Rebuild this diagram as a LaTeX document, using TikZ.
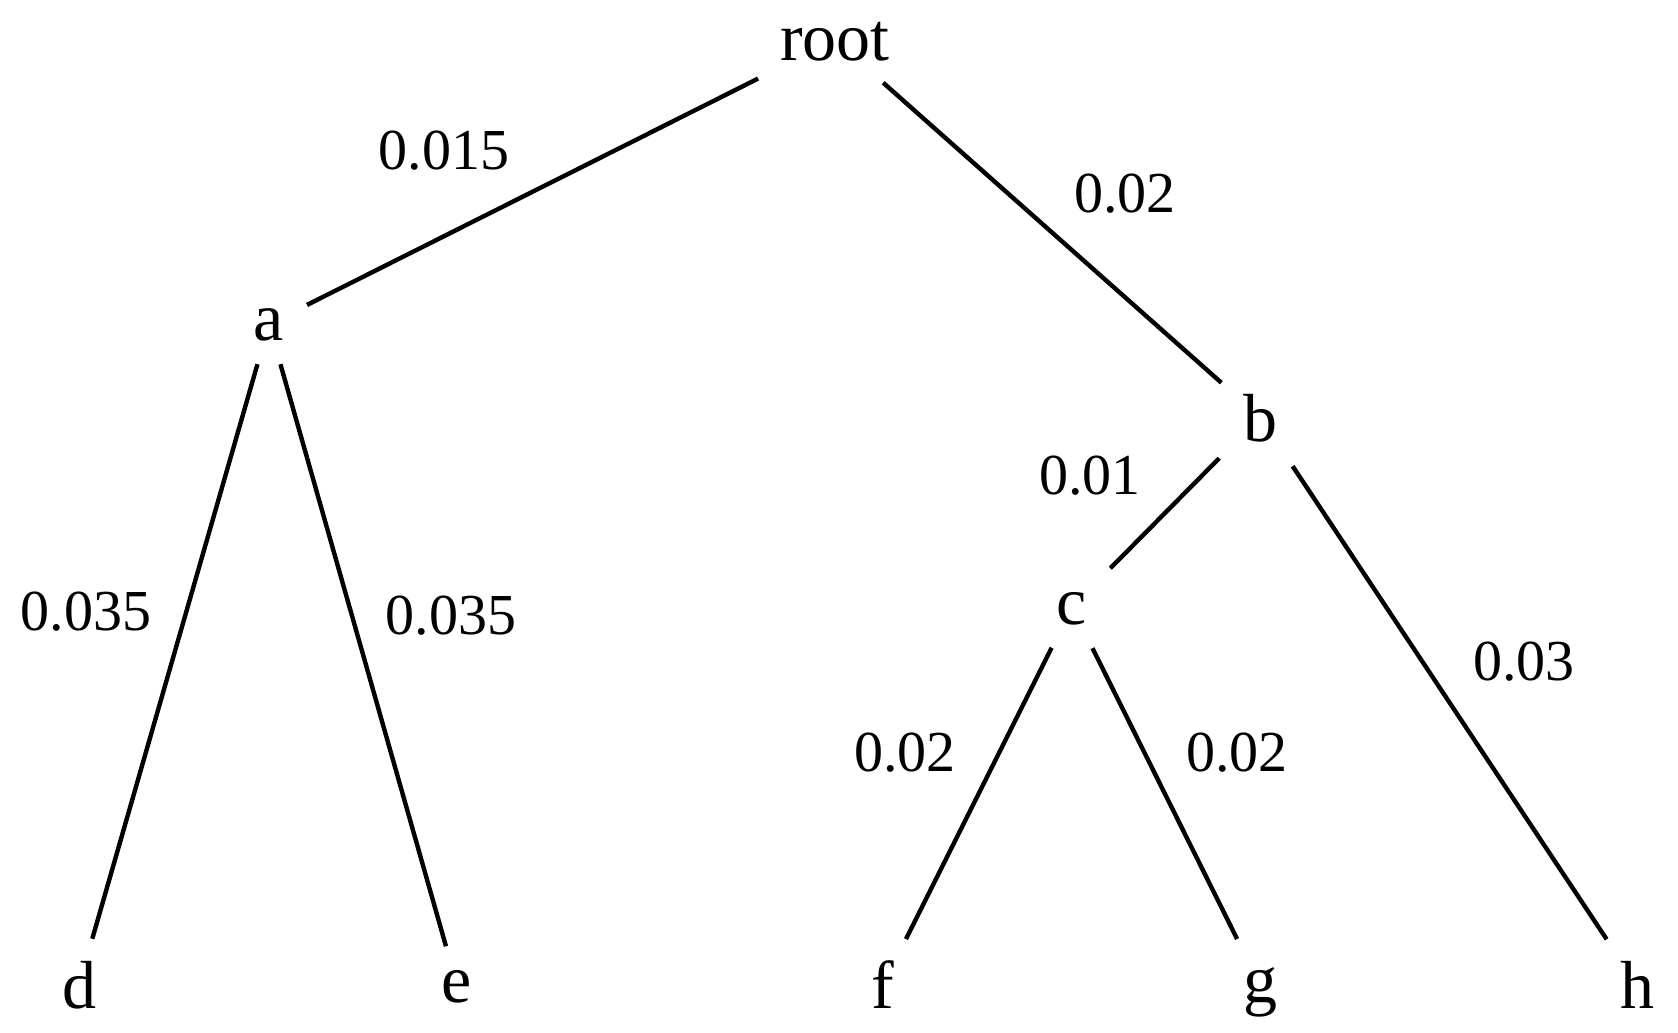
\documentclass[tikz,border=0pt]{standalone}
\usepackage{fontspec}
\setmainfont{Liberation Serif}
\begin{document}
\begin{tikzpicture}[x=1pt,y=-1pt,
  treenode/.style={inner sep=0pt, outer sep=0pt, font=\fontsize{68}{80}\selectfont, text height=45pt, text depth=5pt},
  weight/.style={inner sep=0pt, anchor=base, font=\fontsize{58}{68}\selectfont},
  edge/.style={line width=4.4pt, black}]
\useasboundingbox (0,0) rectangle (1678,1033);
% nodes
\node[treenode] (root) at (835,40) {root};
\node[treenode, text depth=13pt] (a) at (269,324) {a};
\node[treenode, text height=51pt, text depth=3pt] (b) at (1260,417) {b};
\node[treenode, text depth=11pt] (c) at (1072,607) {c};
\node[treenode, text height=51pt] (d) at (79,985) {d};
\node[treenode, text depth=11pt] (e) at (457,985) {e};
\node[treenode, text height=51pt] (f) at (883,985) {f};
\node[treenode, text depth=11pt] (g) at (1260,985) {g};
\node[treenode, text height=51pt] (h) at (1637,985) {h};
% edges
\draw[edge, shorten <=86pt, shorten >=42.5pt] (root.center) -- (a.center);
\draw[edge, shorten <=64.4pt, shorten >=51.7pt] (root.center) -- (b.center);
\draw[edge, shorten <=41.8pt, shorten >=48.1pt] (a.center) -- (d.center);
\draw[edge, shorten <=41.8pt, shorten >=40.3pt] (a.center) -- (e.center);
\draw[edge, shorten <=58pt, shorten >=54.5pt] (b.center) -- (c.center);
\draw[edge, shorten <=59pt, shorten >=54.9pt] (b.center) -- (h.center);
\draw[edge, shorten <=45.6pt, shorten >=51.4pt] (c.center) -- (f.center);
\draw[edge, shorten <=46pt, shorten >=51.4pt] (c.center) -- (g.center);
% weights
\node[weight] (wa) at (444,169) {0.015};
\node[weight] (wb) at (1125,212) {0.02};
\node[weight] (wd) at (86,630) {0.035};
\node[weight] (we) at (451,634) {0.035};
\node[weight] (wc) at (1090,494) {0.01};
\node[weight] (wh) at (1524,680) {0.03};
\node[weight] (wf) at (905,771) {0.02};
\node[weight] (wg) at (1237,771) {0.02};
\end{tikzpicture}
\end{document}
